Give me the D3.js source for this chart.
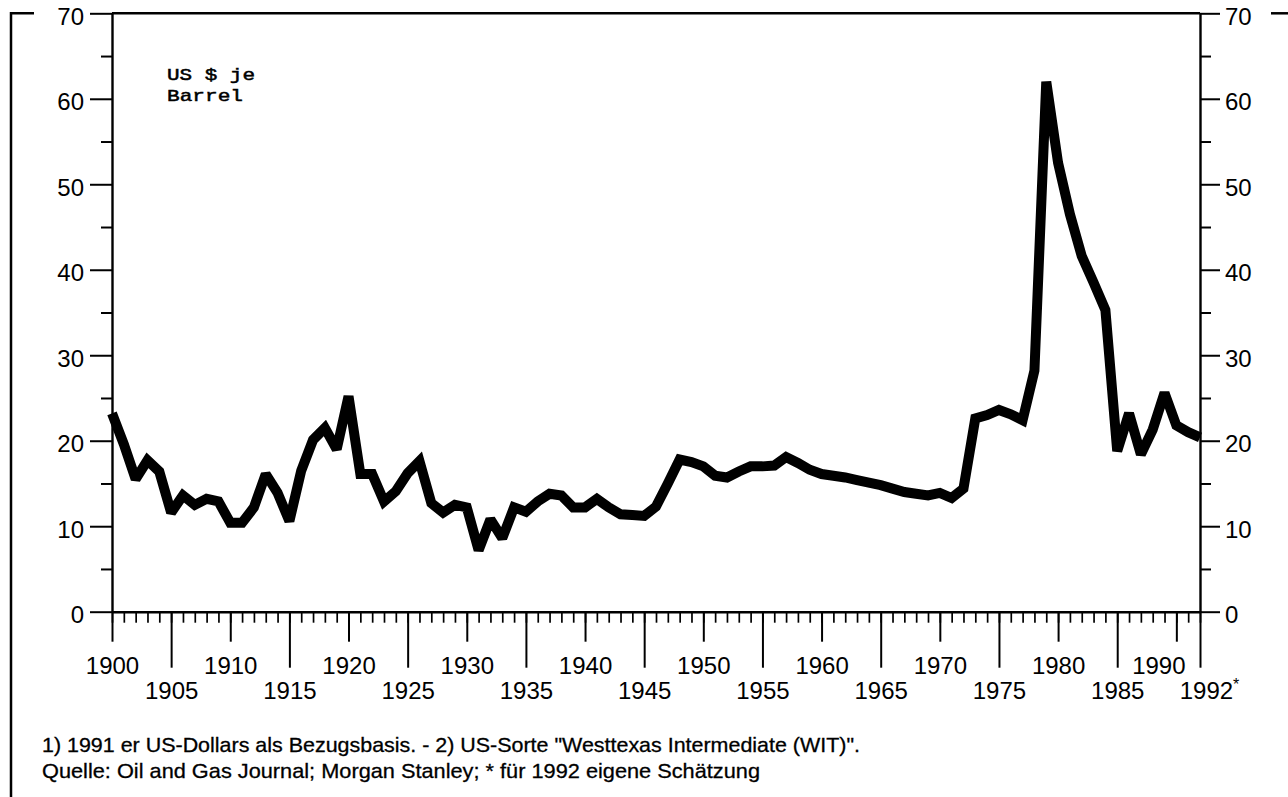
<!DOCTYPE html>
<html><head><meta charset="utf-8">
<script src="https://cdn.jsdelivr.net/npm/d3@7"></script>
<style>body{margin:0;background:#fff} svg{display:block}</style>
</head><body><svg id="c" width="1288" height="797"></svg>
<script>
const startYear = 1900, endYear = 1992;
const years = d3.range(startYear, endYear + 1);
const prices = [
  23.2, 19.6, 15.5, 17.7, 16.4, 11.6, 13.6, 12.5, 13.2, 12.9,
  10.4, 10.4, 12.2, 16.1, 13.9, 10.6, 16.5, 20.1, 21.5, 19.0,
  25.2, 16.1, 16.1, 12.9, 14.1, 16.2, 17.6, 12.7, 11.6, 12.5,
  12.2, 7.2, 10.8, 8.6, 12.2, 11.7, 12.9, 13.8, 13.6, 12.2,
  12.2, 13.2, 12.2, 11.4, 11.3, 11.2, 12.3, 15.0, 17.8, 17.5,
  17.0, 15.9, 15.7, 16.4, 17.0, 17.0, 17.1, 18.1, 17.4, 16.6,
  16.1, 15.9, 15.7, 15.4, 15.1, 14.8, 14.4, 14.0, 13.8, 13.6,
  13.9, 13.3, 14.4, 22.6, 23.0, 23.6, 23.1, 22.4, 28.2, 62.0,
  52.5, 46.5, 41.6, 38.5, 35.3, 18.8, 23.2, 18.4, 21.3, 25.6,
  21.8, 21.0, 20.4
];
const yMajorTicks = [0, 10, 20, 30, 40, 50, 60, 70];
const yMinorTicks = [5, 15, 25, 35, 45, 55, 65];
const decadeTicks = [1900, 1910, 1920, 1930, 1940, 1950, 1960, 1970, 1980, 1990];
const fiveYearTicks = [1905, 1915, 1925, 1935, 1945, 1955, 1965, 1975, 1985, 1992];
const unitLines = ["US $ je", "Barrel"];
const footnotes = [
  "1) 1991 er US-Dollars als Bezugsbasis. - 2) US-Sorte \"Westtexas Intermediate (WIT)\".",
  "Quelle: Oil and Gas Journal; Morgan Stanley; * für 1992 eigene Schätzung"
];

const svg = d3.select("#c");
const x = d3.scaleLinear().domain([startYear, endYear]).range([112, 1200]);
const y = d3.scaleLinear().domain([0, 70]).range([611.7, 13.3]);
const sans = "'Liberation Sans', Arial, Helvetica, sans-serif";

function styleAxis(g, fs) {
  g.attr("font-family", sans).attr("font-size", fs);
  g.selectAll("line").attr("stroke", "#000").attr("stroke-width", 2);
  g.selectAll("path.domain").attr("stroke", "#000").attr("stroke-width", 2.4);
  g.selectAll("text").attr("fill", "#000");
}

// outer frame
svg.append("path").attr("d", `M34,${y(70)}H11V797`).attr("fill","none").attr("stroke","#000").attr("stroke-width",2.5);
svg.append("path").attr("d", `M1271,${y(70)}H1288`).attr("fill","none").attr("stroke","#000").attr("stroke-width",2.5);

// top border of plot
svg.append("line").attr("x1", x(startYear)).attr("x2", x(endYear)).attr("y1", y(70)).attr("y2", y(70))
  .attr("stroke", "#000").attr("stroke-width", 2.6);

// left axis
const gl = svg.append("g").attr("transform", `translate(${x(startYear)},0)`)
  .call(d3.axisLeft(y).tickValues(yMajorTicks).tickSize(22).tickPadding(6).tickSizeOuter(0));
styleAxis(gl, 24);
gl.selectAll("text").attr("dy", "0.45em");
const glm = svg.append("g").attr("transform", `translate(${x(startYear)},0)`)
  .call(d3.axisLeft(y).tickValues(yMinorTicks).tickSize(11).tickFormat(""));
styleAxis(glm, 24); glm.select("path.domain").remove();

// right axis
const gr = svg.append("g").attr("transform", `translate(${x(endYear)},0)`)
  .call(d3.axisRight(y).tickValues(yMajorTicks).tickSize(20).tickPadding(5).tickSizeOuter(0));
styleAxis(gr, 24);
gr.selectAll("text").attr("dy", "0.45em");
const grm = svg.append("g").attr("transform", `translate(${x(endYear)},0)`)
  .call(d3.axisRight(y).tickValues(yMinorTicks).tickSize(11).tickFormat(""));
styleAxis(grm, 24); grm.select("path.domain").remove();

// bottom axes
const gbMinor = svg.append("g").attr("transform", `translate(0,${y(0)})`)
  .call(d3.axisBottom(x).tickValues(years).tickSize(11).tickFormat("").tickSizeOuter(0));
styleAxis(gbMinor, 24);
gbMinor.selectAll("line").attr("stroke-width", 1.7);

const gbDec = svg.append("g").attr("transform", `translate(0,${y(0)})`)
  .call(d3.axisBottom(x).tickValues(decadeTicks).tickSize(30).tickPadding(15).tickFormat(d3.format("d")));
styleAxis(gbDec, 24); gbDec.select("path.domain").remove();
gbDec.selectAll(".tick").filter(d => d === 1990).select("text").attr("x", -18);

const gbFive = svg.append("g").attr("transform", `translate(0,${y(0)})`)
  .call(d3.axisBottom(x).tickValues(fiveYearTicks).tickSize(56).tickPadding(14).tickFormat(d3.format("d")));
styleAxis(gbFive, 24); gbFive.select("path.domain").remove();
gbFive.selectAll(".tick").filter(d => d === 1992).select("text")
  .attr("x", 9)
  .append("tspan").attr("font-size", 16).attr("dy", "-0.55em").text("*");

// unit label (two separate lines)
const unitWidths = [88, 76];
unitLines.forEach((t, i) => {
  svg.append("text").attr("x", 167).attr("y", 80 + i * 21)
    .attr("font-family", "'Liberation Mono', 'Courier New', monospace")
    .attr("font-size", 17).attr("fill", "#000")
    .attr("stroke", "#000").attr("stroke-width", 0.5)
    .attr("textLength", unitWidths[i]).attr("lengthAdjust", "spacingAndGlyphs")
    .text(t);
});

// data line
const line = d3.line().x((d, i) => x(years[i])).y(d => y(d));
svg.append("path").datum(prices).attr("d", line)
  .attr("fill", "none").attr("stroke", "#000").attr("stroke-width", 10)
  .attr("stroke-linejoin", "miter").attr("stroke-miterlimit", 2).attr("stroke-linecap", "butt");

// footnotes
const fnFont = "'Liberation Sans Narrow', 'Arial Narrow', 'Liberation Sans', sans-serif";
const footWidths = [818, 718];
footnotes.forEach((t, i) => {
  svg.append("text").attr("x", 42).attr("y", 752 + i * 26)
    .attr("font-family", fnFont).attr("font-size", 21).attr("fill", "#000")
    .attr("stroke", "#000").attr("stroke-width", 0.3)
    .attr("textLength", footWidths[i]).attr("lengthAdjust", "spacingAndGlyphs")
    .text(t);
});
</script>
</body></html>
